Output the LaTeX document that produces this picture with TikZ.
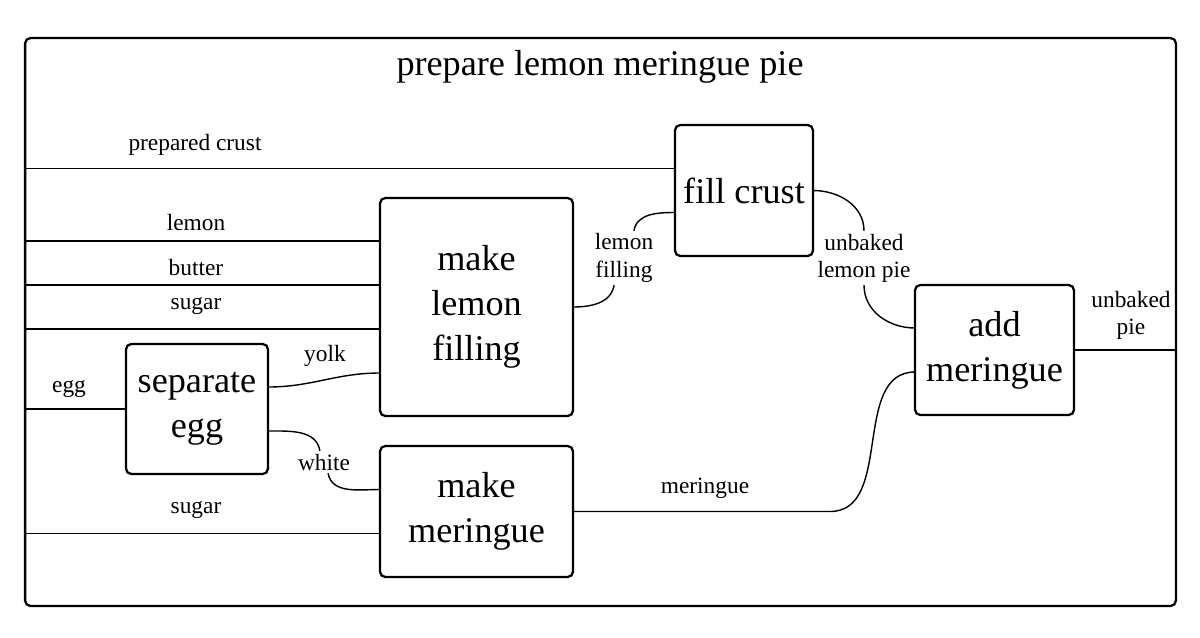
\documentclass[tikz,border=0pt]{standalone}
\usepackage{fontspec}
\setmainfont{Liberation Serif}
\usetikzlibrary{positioning}

\begin{document}
\begin{tikzpicture}[
    x=0.02cm, y=-0.02cm,
    task/.style={
        draw,
        rounded corners=3pt,
        line width=1.3pt,
        align=center,
        inner sep=0pt,
        outer sep=0pt,
        font=\fontsize{20.6}{25.5}\selectfont
    },
    wire/.style={line width=0.8pt},
    lbl/.style={align=center, inner sep=1.5pt, font=\fontsize{13.3}{15.5}\selectfont}
]

\useasboundingbox (0,0) rectangle (1200,637);

% Outer frame and title
\node[task, minimum width=23.02cm, minimum height=11.36cm] (frame) at (600.5,322) {};
\node[font=\fontsize{20.6}{25.5}\selectfont] (title) at (600,67) {prepare lemon meringue pie};

% Steps
\node[task, minimum width=2.76cm, minimum height=2.62cm] (fill) at (744,190.5) {fill crust};
\node[task, minimum width=3.86cm, minimum height=4.36cm] (filling) at (476.5,307) {make\\lemon\\filling};
\node[task, minimum width=2.84cm, minimum height=2.6cm] (separate) at (197,409) {separate\\egg};
\node[task, minimum width=3.86cm, minimum height=2.62cm] (meringue) at (476.5,511.5) {make\\meringue};
\node[task, minimum width=3.18cm, minimum height=2.6cm] (add) at (994.5,350) {add\\meringue};

% Ports on the steps
\coordinate (fill-in1) at ([yshift=0.44cm]fill.west);
\coordinate (fill-in2) at ([yshift=-0.44cm]fill.west);
\coordinate (filling-in1) at ([yshift=1.32cm]filling.west);
\coordinate (filling-in2) at ([yshift=0.44cm]filling.west);
\coordinate (filling-in3) at ([yshift=-0.44cm]filling.west);
\coordinate (filling-in4) at ([yshift=-1.32cm]filling.west);
\coordinate (separate-out1) at ([yshift=0.44cm]separate.east);
\coordinate (separate-out2) at ([yshift=-0.44cm]separate.east);
\coordinate (meringue-in1) at ([yshift=0.44cm]meringue.west);
\coordinate (meringue-in2) at ([yshift=-0.44cm]meringue.west);
\coordinate (add-in1) at ([yshift=0.44cm]add.west);
\coordinate (add-in2) at ([yshift=-0.44cm]add.west);
\coordinate (bend) at ([xshift=-1.7cm]add.west |- meringue.east);

% Labels
\node[lbl] (crustlbl) at (195,145) {prepared crust};
\node[lbl] (lemonlbl) at (196,222) {lemon};
\node[lbl] (butterlbl) at (196,267) {butter};
\node[lbl] (sugarlbl) at (196,306) {sugar};
\node[lbl] (egglbl) at (69,389) {egg};
\node[lbl] (sugarlbl2) at (196,510) {sugar};
\node[lbl] (yolklbl) at (325,356) {yolk};
\node[lbl] (whitelbl) at (324,462) {white};
\node[lbl] (fillinglbl) at (624,258) {lemon\\filling};
\node[lbl] (lemonpielbl) at (864,258) {unbaked\\lemon pie};
\node[lbl] (meringuelbl) at (705,488) {meringue};
\node[lbl] (pielbl) at (1131,315) {unbaked\\pie};

% Inputs from the frame
\draw[wire] (frame.west |- fill-in1) -- (fill-in1);
\draw[wire] (frame.west |- filling-in1) -- (filling-in1);
\draw[wire] (frame.west |- filling-in2) -- (filling-in2);
\draw[wire] (frame.west |- filling-in3) -- (filling-in3);
\draw[wire] (frame.west |- separate.west) -- (separate.west);
\draw[wire] (frame.west |- meringue-in2) -- (meringue-in2);

% Flows between steps
\draw[wire] (separate-out1) to[out=0, in=180] (filling-in4);
\draw[wire] (separate-out2) to[out=0, in=100] (whitelbl.110);
\draw[wire] (whitelbl.-70) to[out=-80, in=180] (meringue-in1);
\draw[wire] (filling.east) to[out=0, in=-100] (fillinglbl.-110);
\draw[wire] (fillinglbl.70) to[out=80, in=180] (fill-in2);
\draw[wire] (fill.east) to[out=0, in=90] (lemonpielbl.north);
\draw[wire] (lemonpielbl.south) to[out=-90, in=180] (add-in1);
\draw[wire] (meringue.east) -- (bend) to[out=0, in=180] (add-in2);

% Output to the frame
\draw[wire] (add.east) -- (frame.east |- add.east);

\end{tikzpicture}
\end{document}
